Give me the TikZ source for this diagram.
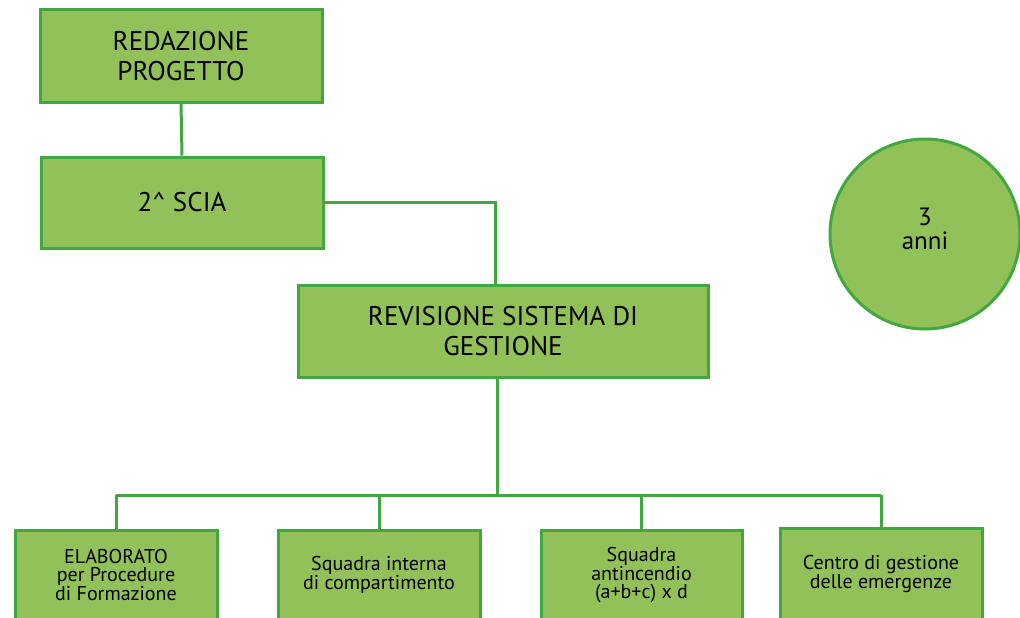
\documentclass[tikz,border=0pt]{standalone}
\usepackage{fontspec}
\setmainfont{PT Sans}
\definecolor{boxfill}{RGB}{146,193,90}
\definecolor{boxline}{RGB}{64,168,62}
\begin{document}
\begin{tikzpicture}[x=1pt,y=-1pt,
  gbox/.style={draw=boxline, fill=boxfill, line width=3pt, rectangle, inner sep=0pt, align=center, text=black},
  big/.style={font=\fontsize{27}{30}\selectfont},
  small/.style={font=\fontsize{20}{18}\selectfont},
  conn/.style={draw=boxline, line width=3pt}]
\useasboundingbox (0,0) rectangle (1020,618);
\node[gbox, big, minimum width=282pt, minimum height=92pt] (b1) at (181,56) {REDAZIONE\\PROGETTO};
\node[gbox, big, minimum width=282pt, minimum height=91pt] (b2) at (182,202.5) {2\^{} SCIA};
\node[gbox, big, minimum width=410pt, minimum height=92pt] (b3) at (503,331) {REVISIONE SISTEMA DI\\GESTIONE};
\node[gbox, small, minimum width=202pt, minimum height=90pt] (ba) at (116,575) {ELABORATO\\per Procedure\\di Formazione};
\node[gbox, small, minimum width=202pt, minimum height=90pt] (bb) at (379,575) {Squadra interna\\di compartimento};
\node[gbox, small, minimum width=201pt, minimum height=90pt] (bc) at (641.5,575) {Squadra\\antincendio\\(a+b+c) x d};
\node[gbox, small, minimum width=202pt, minimum height=92pt] (bd) at (881,574) {Centro di gestione\\delle emergenze};
\node[circle, draw=boxline, fill=boxfill, line width=3pt, minimum size=190pt, inner sep=0pt] (c) at (925,234) {};
\node[align=center, inner sep=0pt, font=\fontsize{25}{24}\selectfont] (ct) at (925,229) {3\\anni};
\coordinate (bus) at (497,495);
\draw[conn] (b1.south) -- (b2.north);
\draw[conn] (b2.east) -| ([xshift=-8pt]b3.north);
\draw[conn] ([xshift=-6pt]b3.south) -- (bus);
\draw[conn] (ba.north |- bus) -- (bd.north |- bus);
\draw[conn] (ba.north) -- (ba.north |- bus);
\draw[conn] (bb.north) -- (bb.north |- bus);
\draw[conn] (bc.north) -- (bc.north |- bus);
\draw[conn] (bd.north) -- (bd.north |- bus);
\end{tikzpicture}
\end{document}
